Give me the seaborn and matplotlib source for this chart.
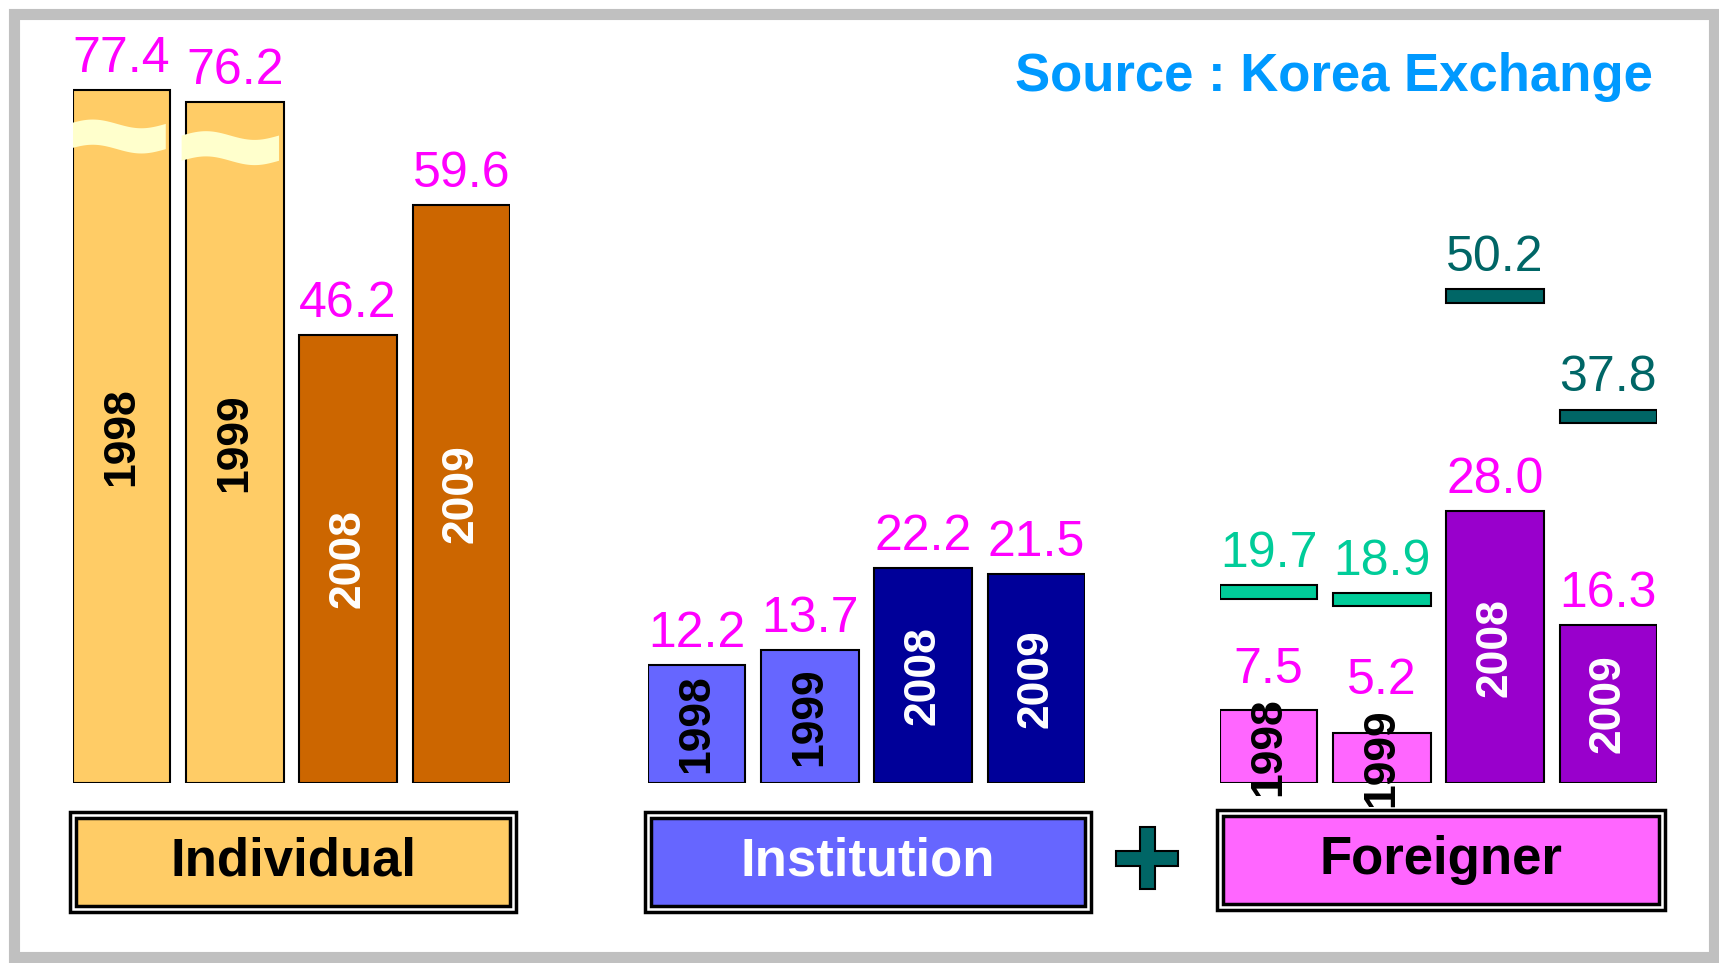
import numpy as np
import matplotlib
matplotlib.use("Agg")
import matplotlib.pyplot as plt
import seaborn as sns
from matplotlib.patches import Rectangle, Polygon

# data
years = ["1998", "1999", "2008", "2009"]
individual = [77.4, 76.2, 46.2, 59.6]
institution = [12.2, 13.7, 22.2, 21.5]
foreigner = [7.5, 5.2, 28.0, 16.3]
inst_plus_foreign = [19.7, 18.9, 50.2, 37.8]
group_names = ["Individual", "Institution", "Foreigner"]
source_text = "Source : Korea Exchange"

# the two tallest bars are drawn with a break (wavy band)
BREAK_LIMIT = 70
BREAK_CUT = 6.0
YEAR_HALF = 4.7  # half length of a rotated year label, in data units

W, H = 1719, 963
sns.set_theme(style="white")
plt.rcParams["font.family"] = ["Liberation Sans", "DejaVu Sans"]

fig = plt.figure(figsize=(W / 100, H / 100), dpi=100)
fig.patch.set_facecolor("white")


def fx(x):
    return x / W


def fy(y):
    return 1 - y / H


# grey slide frame
fig.add_artist(Rectangle((fx(14), fy(957)), fx(1714) - fx(14), fy(14) - fy(957),
                         transform=fig.transFigure, fill=False,
                         edgecolor="#C0C0C0", linewidth=8, zorder=0))

groups = [
    dict(values=individual, left=73, light="#FFCC66", dark="#CC6600",
         box=(70, 812, 516, 912), text="black"),
    dict(values=institution, left=648, light="#6666FF", dark="#000099",
         box=(645, 812, 1091, 912), text="white"),
    dict(values=foreigner, left=1220, light="#FF66FF", dark="#9900CC",
         box=(1217, 810, 1665, 910), text="black"),
]

for g, name in zip(groups, group_names):
    vals = g["values"]
    shown = [v - BREAK_CUT if v > BREAK_LIMIT else v for v in vals]
    colors = [g["light"], g["light"], g["dark"], g["dark"]]

    ax = fig.add_axes([fx(g["left"]), fy(783), 437 / W, 776 / H])
    ax.patch.set_alpha(0)
    sns.barplot(x=years, y=shown, hue=years, palette=colors, width=0.86,
                saturation=1, edgecolor="black", linewidth=1.5, legend=False, ax=ax)
    ax.set_xlim(-0.43, 3.43)
    ax.set_ylim(0, 80)
    ax.axis("off")

    for i, (v, s) in enumerate(zip(vals, shown)):
        # keep the value clear of a year label sticking out of a short bar
        anchor = max(s, s / 2 + YEAR_HALF)
        ax.annotate(f"{v:.1f}", (i, anchor), xytext=(0, 13), textcoords="offset points",
                    ha="center", va="baseline", fontsize=36, color="#FF00FF")
        ax.text(i, s / 2, years[i], rotation=90, ha="center", va="center",
                fontsize=32, fontweight="bold",
                color="black" if i < 2 else "white", zorder=6)
        if v > BREAK_LIMIT:
            t = np.linspace(0, 1, 60)
            xs = i - 0.475 + 0.86 * t
            top = s - 3.4 + 0.45 * np.sin(2 * np.pi * t)
            ax.fill_between(xs, top - 2.6, top, color="#FFFFCC", linewidth=0, zorder=5)

    if name == "Foreigner":
        dash_cols = ["#00CC99", "#00CC99", "#006666", "#006666"]
        ax.bar(range(4), 1.4, bottom=np.array(inst_plus_foreign) - 0.7, width=0.86,
               color=dash_cols, edgecolor="black", linewidth=1.5, zorder=3)
        for i, v in enumerate(inst_plus_foreign):
            ax.annotate(f"{v:.1f}", (i, v + 0.7), xytext=(0, 13), textcoords="offset points",
                        ha="center", va="baseline", fontsize=36, color=dash_cols[i])

    # group name box with double border
    x0, y0, x1, y1 = g["box"]
    fig.add_artist(Rectangle((fx(x0), fy(y1)), fx(x1) - fx(x0), fy(y0) - fy(y1),
                             transform=fig.transFigure, facecolor="white",
                             edgecolor="black", linewidth=2.5))
    fig.add_artist(Rectangle((fx(x0 + 6), fy(y1 - 6)), fx(x1 - 6) - fx(x0 + 6),
                             fy(y0 + 6) - fy(y1 - 6), transform=fig.transFigure,
                             facecolor=g["light"], edgecolor="black", linewidth=2.5))
    fig.text(fx((x0 + x1) / 2), fy((y0 + y1) / 2), name, ha="center", va="center",
             fontsize=38, fontweight="bold", color=g["text"])

# plus sign between Institution and Foreigner
cx, cy, a, b = 1147, 858, 31, 7.5
pts = [(cx - b, cy - a), (cx + b, cy - a), (cx + b, cy - b), (cx + a, cy - b),
       (cx + a, cy + b), (cx + b, cy + b), (cx + b, cy + a), (cx - b, cy + a),
       (cx - b, cy + b), (cx - a, cy + b), (cx - a, cy - b), (cx - b, cy - b)]
fig.add_artist(Polygon([(fx(px), fy(py)) for px, py in pts], closed=True,
                       transform=fig.transFigure, facecolor="#006666",
                       edgecolor="black", linewidth=1.5))

fig.text(fx(1653), fy(77), source_text, ha="right", va="center",
         fontsize=38, fontweight="bold", color="#0099FF")

fig.savefig("out.png", dpi=100)
